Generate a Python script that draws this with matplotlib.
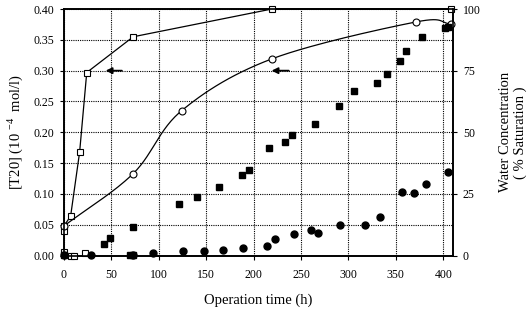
import numpy as np
import matplotlib
matplotlib.use('Agg')
from matplotlib import pyplot as plt

plt.rcParams['font.family'] = ['Liberation Serif', 'DejaVu Serif']
plt.rcParams['mathtext.fontset'] = 'custom'
plt.rcParams['mathtext.rm'] = 'Liberation Serif'

# open squares, joined by straight segments (left axis)
sq_h = [0, 7, 16.5, 24, 73, 219, 408]
sq_v = [0.048, 0.064, 0.168, 0.297, 0.355, 0.400, 0.400]
# extra open squares without line
sq2_h = [0, 0, 7, 10.5, 22]
sq2_v = [0.040, 0.005, 0.0, 0.0, 0.004]

# open circles, smoothed line (left axis)
oc_h = [0, 73, 124, 219, 371, 408]
oc_v = [0.048, 0.133, 0.235, 0.319, 0.379, 0.376]

# filled squares (right axis, % saturation)
fs_h = [0, 70, 73, 42.5, 48.5, 73, 121.5, 140.5, 163.5, 187.5, 195.5, 216.5,
        233, 241, 265, 290, 306, 330, 341, 354, 361, 378, 402, 405]
fs_v = [0.3, 0.2, 0.2, 4.8, 7.1, 11.5, 20.8, 23.8, 28.0, 32.5, 34.8, 43.8,
        46.0, 48.8, 53.3, 60.5, 66.8, 69.8, 73.5, 78.8, 82.8, 88.8, 92.3, 92.8]

# filled circles (right axis, % saturation)
fc_h = [0, 29, 73, 93.5, 126, 148, 168, 189, 214, 222.5, 243, 260.5, 268,
        291, 317, 333, 357, 369, 381.5, 404.5]
fc_v = [0.2, 0.2, 0.2, 1.0, 2.0, 1.8, 2.2, 3.0, 3.8, 6.8, 8.8, 10.3, 9.3,
        12.5, 12.5, 15.5, 25.8, 25.3, 29.0, 34.0]


def smooth(x, y, n=30):
    # Catmull-Rom through the points, like a spreadsheet smoothed line
    x = np.asarray(x, float)
    y = np.asarray(y, float)
    px = np.concatenate(([2 * x[0] - x[1]], x, [2 * x[-1] - x[-2]]))
    py = np.concatenate(([2 * y[0] - y[1]], y, [2 * y[-1] - y[-2]]))
    xs, ys = [], []
    t = np.linspace(0, 1, n)
    for i in range(1, len(px) - 2):
        for p, out in ((px, xs), (py, ys)):
            p0, p1, p2, p3 = p[i - 1], p[i], p[i + 1], p[i + 2]
            out.extend(0.5 * (2 * p1 + (-p0 + p2) * t
                              + (2 * p0 - 5 * p1 + 4 * p2 - p3) * t ** 2
                              + (-p0 + 3 * p1 - 3 * p2 + p3) * t ** 3))
    return xs, ys


fig = plt.figure(figsize=(5.31, 3.12), dpi=100)
ax = fig.add_axes([0.1205, 0.181, 0.733, 0.790])
ax2 = ax.twinx()

ax.grid(True, color='black', linestyle=(0, (1, 1)), linewidth=0.8)
ax.set_axisbelow(True)

ax.plot(sq_h, sq_v, color='black', lw=0.9, marker='s', ms=5,
        mfc='white', mec='black', mew=0.8, zorder=3, clip_on=False)
ax.plot(sq2_h, sq2_v, ls='none', marker='s', ms=5,
        mfc='white', mec='black', mew=0.8, zorder=3, clip_on=False)
cx, cy = smooth(oc_h, oc_v)
ax.plot(cx, cy, color='black', lw=0.9, zorder=3)
ax.plot(oc_h, oc_v, ls='none', marker='o', ms=5,
        mfc='white', mec='black', mew=0.8, zorder=4, clip_on=False)

ax2.plot(fs_h, fs_v, ls='none', marker='s', ms=5, color='black', clip_on=False)
ax2.plot(fc_h, fc_v, ls='none', marker='o', ms=5, color='black', clip_on=False)

ax.annotate('', xy=(41, 0.30), xytext=(64, 0.30),
            arrowprops=dict(arrowstyle='-|>', color='black', lw=1.3,
                            mutation_scale=9))
ax.annotate('', xy=(216, 0.30), xytext=(240, 0.30),
            arrowprops=dict(arrowstyle='-|>', color='black', lw=1.3,
                            mutation_scale=9))

ax.set_xlim(0, 410.5)
ax.set_ylim(0, 0.40)
ax2.set_ylim(0, 100)
ax.set_xticks(np.arange(0, 401, 50))
ax.set_yticks(np.arange(0, 0.401, 0.05))
ax.set_yticklabels(['%.2f' % v for v in np.arange(0, 0.401, 0.05)])
ax2.set_yticks([0, 25, 50, 75, 100])

for a in (ax, ax2):
    a.tick_params(direction='out', length=3, width=0.8, labelsize=8.5,
                  colors='black', pad=4)
    for s in a.spines.values():
        s.set_linewidth(1.2)
ax.tick_params(axis='x', pad=7)

ax.set_xlabel('Operation time (h)', fontsize=10.5, labelpad=9)
ax.set_ylabel(r'[T20] (10 $^{-4}$  mol/l)', fontsize=10.5, labelpad=6)
ax2.set_ylabel('Water Concentration\n( % Saturation )', fontsize=10.5,
               labelpad=13, rotation=90, linespacing=1.2)

fig.savefig('out.png', dpi=100)
